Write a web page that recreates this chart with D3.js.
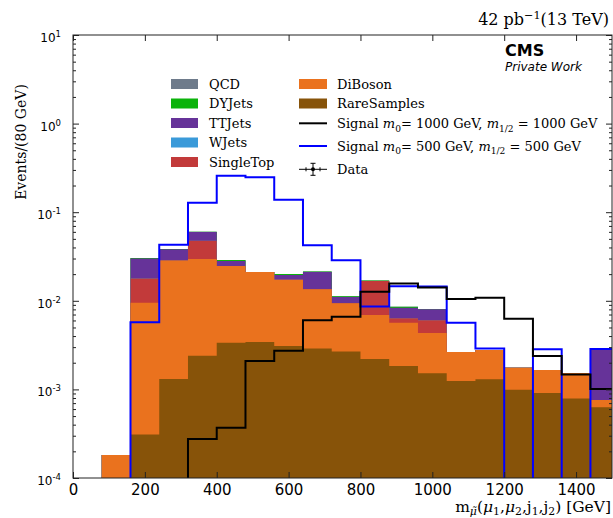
<!DOCTYPE html>
<html>

<head>
    <meta charset="UTF-8">
    <title>Events / 80 GeV</title>
    <script type="text/javascript" src="https://d3js.org/d3.v7.min.js"></script>
    <style>
        body { margin: 0; background: #fff; }
        svg { display: block; }
        .serif { font-family: "DejaVu Serif", serif; }
        .sans { font-family: "DejaVu Sans", sans-serif; }
    </style>
</head>

<body>
    <svg id="chart" width="613" height="518"></svg>

    <script type="text/javascript">
        /****** DATA *******/
        // bin edges in GeV (80 GeV bins, last value is upper edge)
        const binEdges = [0, 80, 160, 240, 320, 400, 480, 560, 640, 720, 800, 880, 960, 1040, 1120, 1200, 1280, 1360, 1440, 1520];

        // background samples, events per bin
        const rareSamples = [0, 0, 3.1e-4, 1.31e-3, 2.40e-3, 3.37e-3, 3.43e-3, 3.09e-3, 2.90e-3, 2.67e-3, 2.20e-3, 1.84e-3, 1.52e-3, 1.24e-3, 1.30e-3, 9.9e-4, 9.1e-4, 7.9e-4, 6.3e-4];
        const diBoson = [0, 1.82e-4, 9.2e-3, 2.71e-2, 2.72e-2, 2.13e-2, 1.77e-2, 1.42e-2, 1.06e-2, 6.7e-3, 4.7e-3, 3.8e-3, 2.8e-3, 1.40e-3, 1.48e-3, 7.7e-4, 7.5e-4, 7.4e-4, 1.3e-4];
        const singleTop = [0, 0, 8.4e-3, 0, 1.81e-2, 0, 0, 0, 0, 0, 9.8e-3, 7e-4, 1.7e-3, 0, 0, 0, 0, 0, 0];
        const wJets = [0, 0, 0, 0, 0, 0, 0, 0, 0, 0, 0, 0, 0, 0, 0, 0, 0, 0, 0];
        const ttJets = [0, 0, 1.22e-2, 9.7e-3, 1.21e-2, 3.5e-3, 0, 2.2e-3, 7.6e-3, 1.7e-3, 0, 2.0e-3, 2.0e-3, 0, 0, 0, 0, 0, 2.1e-3];
        const dyJets = [0, 0, 3e-4, 3e-4, 2e-4, 7e-4, 0, 6e-4, 3e-4, 2e-4, 2e-4, 2e-4, 0, 0, 0, 0, 0, 0, 0];
        const qcd = [0, 0, 0, 0, 0, 0, 0, 0, 0, 0, 0, 0, 0, 0, 0, 0, 0, 0, 0];

        // signal points
        const signal1000 = [0, 0, 0, 0, 2.75e-4, 3.70e-4, 2.09e-3, 2.73e-3, 6.03e-3, 6.6e-3, 1.267e-2, 1.57e-2, 1.41e-2, 1.047e-2, 1.083e-2, 6.26e-3, 2.38e-3, 1.47e-3, 1.01e-3];
        const signal500 = [0, 0, 5.72e-3, 4.30e-2, 0.128, 0.258, 0.248, 0.138, 4.23e-2, 2.86e-2, 8.6e-3, 1.46e-2, 1.45e-2, 5.66e-3, 2.9e-3, 0, 2.83e-3, 0, 2.86e-3];

        // axis ticks
        const xTicks = [0, 200, 400, 600, 800, 1000, 1200, 1400];
        const yDecades = [-4, -3, -2, -1, 0, 1];

        // stack order bottom -> top
        const samples = [
            { name: "RareSamples", values: rareSamples, color: "#875309" },
            { name: "DiBoson", values: diBoson, color: "#ea721e" },
            { name: "SingleTop", values: singleTop, color: "#c23a3a" },
            { name: "WJets", values: wJets, color: "#3a9ad9" },
            { name: "TTJets", values: ttJets, color: "#663399" },
            { name: "DYJets", values: dyJets, color: "#0bb30b" },
            { name: "QCD", values: qcd, color: "#6e7b8b" }
        ];

        /****** CHART *******/
        const margin = { left: 73, right: 612, top: 35, bottom: 478 };
        const svg = d3.select("#chart");

        const x = d3.scaleLinear().domain([0, 1500]).range([margin.left, margin.right]);
        const y = d3.scaleLog().domain([1e-4, 10]).range([margin.bottom, margin.top]);

        svg.append("clipPath").attr("id", "plotclip")
            .append("rect")
            .attr("x", margin.left).attr("y", margin.top)
            .attr("width", margin.right - margin.left)
            .attr("height", margin.bottom - margin.top);

        const plot = svg.append("g").attr("clip-path", "url(#plotclip)");

        // turn a per-bin array into step points (repeat last for the upper edge)
        function stepPoints(vals) {
            const pts = vals.map((v, i) => ({ x: binEdges[i], v: v }));
            pts.push({ x: binEdges[vals.length], v: vals[vals.length - 1] });
            return pts;
        }
        const safeY = v => y(Math.max(v, 1e-6));

        // cumulative tops
        let running = binEdges.slice(0, -1).map(() => 0);
        samples.forEach(s => {
            running = running.map((r, i) => r + s.values[i]);
            s.top = running.slice();
        });

        const area = d3.area()
            .x(d => x(d.x))
            .y0(margin.bottom)
            .y1(d => safeY(d.v))
            .curve(d3.curveStepAfter);

        // paint from the top layer down so lower layers cover the rest
        samples.slice().reverse().forEach(s => {
            plot.append("path")
                .attr("d", area(stepPoints(s.top)))
                .attr("fill", s.color)
                .attr("stroke", "none");
        });

        const line = d3.line()
            .x(d => x(d.x))
            .y(d => safeY(d.v))
            .curve(d3.curveStepAfter);

        plot.append("path")
            .attr("d", line(stepPoints(signal500)))
            .attr("fill", "none")
            .attr("stroke", "#0000ff")
            .attr("stroke-width", 2);

        plot.append("path")
            .attr("d", line(stepPoints(signal1000)))
            .attr("fill", "none")
            .attr("stroke", "#000")
            .attr("stroke-width", 2);

        /****** AXES *******/
        const minorY = [];
        yDecades.slice(0, -1).forEach(e => {
            for (let k = 2; k <= 9; k++) minorY.push(k * Math.pow(10, e));
        });
        const majorY = yDecades.map(e => Math.pow(10, e));

        function tidy(g) {
            g.select(".domain").remove();
            g.selectAll(".tick line").attr("stroke", "#222");
        }

        svg.append("g")
            .attr("transform", "translate(0," + margin.bottom + ")")
            .call(d3.axisBottom(x).tickValues(xTicks).tickSize(-6).tickPadding(6).tickFormat(d3.format("d")))
            .call(tidy)
            .call(g => g.selectAll("text")
                .attr("class", "sans")
                .style("font-size", "15px")
                .attr("fill", "#000"));

        svg.append("g")
            .attr("transform", "translate(0," + margin.top + ")")
            .call(d3.axisTop(x).tickValues(xTicks).tickSize(-6).tickFormat(""))
            .call(tidy);

        [[d3.axisLeft, margin.left], [d3.axisRight, margin.right]].forEach(([axisFn, pos]) => {
            svg.append("g")
                .attr("transform", "translate(" + pos + ",0)")
                .call(axisFn(y).tickValues(majorY).tickSize(-6).tickFormat(""))
                .call(tidy);
            svg.append("g")
                .attr("transform", "translate(" + pos + ",0)")
                .call(axisFn(y).tickValues(minorY).tickSize(-3).tickFormat(""))
                .call(tidy);
        });

        // y tick labels as 10^n
        yDecades.forEach(e => {
            const t = svg.append("text")
                .attr("class", "sans")
                .attr("x", 61)
                .attr("y", y(Math.pow(10, e)) + 7)
                .attr("text-anchor", "end")
                .style("font-size", "12px")
                .attr("fill", "#000");
            t.append("tspan").text("10");
            t.append("tspan").attr("dy", -5).style("font-size", "8.5px").text(String(e));
        });

        // frame
        svg.append("rect")
            .attr("x", margin.left).attr("y", margin.top)
            .attr("width", margin.right - margin.left)
            .attr("height", margin.bottom - margin.top)
            .attr("fill", "none")
            .attr("stroke", "#222")
            .attr("stroke-width", 1);

        /****** TEXT *******/
        // write a list of pieces: plain, italic, sub or sup
        function richText(sel, parts, size, subShift) {
            let shift = 0;
            parts.forEach(p => {
                const ts = sel.append("tspan").text(p.t);
                let want = 0;
                if (p.sub) want = size * (subShift || 0.3);
                if (p.sup) want = -size * 0.4;
                if (want !== shift) { ts.attr("dy", want - shift); shift = want; }
                if (p.sub || p.sup) ts.style("font-size", (size * 0.7) + "px");
                if (p.it) ts.style("font-style", "italic");
            });
        }

        const title = svg.append("text")
            .attr("class", "serif")
            .attr("x", 609).attr("y", 25)
            .attr("text-anchor", "end")
            .style("font-size", "16px");
        richText(title, [{ t: "42 pb" }, { t: "\u22121", sup: true }, { t: "(13 TeV)" }], 16);

        svg.append("text")
            .attr("class", "sans")
            .attr("x", 505).attr("y", 56)
            .style("font-size", "16px")
            .style("font-weight", "bold")
            .text("CMS");
        svg.append("text")
            .attr("class", "sans")
            .attr("x", 505).attr("y", 71)
            .style("font-size", "12px")
            .style("font-style", "italic")
            .text("Private Work");

        svg.append("text")
            .attr("class", "serif")
            .attr("transform", "translate(26,142) rotate(-90)")
            .attr("text-anchor", "middle")
            .style("font-size", "14px")
            .text("Events/(80 GeV)");

        const xlab = svg.append("text")
            .attr("class", "serif")
            .attr("x", 611).attr("y", 512)
            .attr("text-anchor", "end")
            .style("font-size", "15.5px");
        richText(xlab, [
            { t: "m" }, { t: "\u03bc\u0303", sub: true, it: true },
            { t: "(" }, { t: "\u03bc", it: true }, { t: "1", sub: true },
            { t: "," }, { t: "\u03bc", it: true }, { t: "2", sub: true },
            { t: ",j" }, { t: "1", sub: true },
            { t: ",j" }, { t: "2", sub: true },
            { t: ") [GeV]" }
        ], 15.5, 0.22);

        /****** LEGEND *******/
        const legend = svg.append("g").attr("class", "serif").style("font-size", "13px");
        const col1 = ["QCD", "DYJets", "TTJets", "WJets", "SingleTop"];
        const col1Y = [84, 103.5, 123, 142.5, 162];
        const byName = {};
        samples.forEach(s => byName[s.name] = s);

        col1.forEach((n, i) => {
            legend.append("rect")
                .attr("x", 171).attr("y", col1Y[i] - 5)
                .attr("width", 27).attr("height", 10)
                .attr("fill", byName[n].color);
            legend.append("text")
                .attr("x", 209).attr("y", col1Y[i] + 4.5)
                .text(n);
        });

        ["DiBoson", "RareSamples"].forEach((n, i) => {
            legend.append("rect")
                .attr("x", 299).attr("y", col1Y[i] - 5)
                .attr("width", 28).attr("height", 10)
                .attr("fill", byName[n].color);
            legend.append("text")
                .attr("x", 337).attr("y", col1Y[i] + 4.5)
                .text(n);
        });

        const sigRows = [
            { y: 123.3, color: "#000", m: "1000" },
            { y: 146, color: "#0000ff", m: "500" }
        ];
        sigRows.forEach(r => {
            legend.append("line")
                .attr("x1", 299).attr("x2", 327)
                .attr("y1", r.y).attr("y2", r.y)
                .attr("stroke", r.color).attr("stroke-width", 2);
            const t = legend.append("text").attr("x", 337).attr("y", r.y + 4.5);
            richText(t, [
                { t: "Signal " }, { t: "m", it: true }, { t: "0", sub: true },
                { t: "= " + r.m + " GeV, " }, { t: "m", it: true }, { t: "1/2", sub: true },
                { t: " = " + r.m + " GeV" }
            ], 13);
        });

        // data marker
        const dy = 169.3, dx = 313;
        legend.append("line").attr("x1", 299).attr("x2", 327).attr("y1", dy).attr("y2", dy).attr("stroke", "#000");
        legend.append("line").attr("x1", dx).attr("x2", dx).attr("y1", dy - 6).attr("y2", dy + 6).attr("stroke", "#000");
        [dy - 6, dy + 6].forEach(cy => legend.append("line")
            .attr("x1", dx - 2.5).attr("x2", dx + 2.5).attr("y1", cy).attr("y2", cy).attr("stroke", "#000"));
        [dx - 7, dx + 7].forEach(cx => legend.append("line")
            .attr("x1", cx).attr("x2", cx).attr("y1", dy - 2).attr("y2", dy + 2).attr("stroke", "#000"));
        legend.append("circle").attr("cx", dx).attr("cy", dy).attr("r", 2).attr("fill", "#000");
        legend.append("text").attr("x", 337).attr("y", dy + 4.5).text("Data");
    </script>
</body>

</html>
